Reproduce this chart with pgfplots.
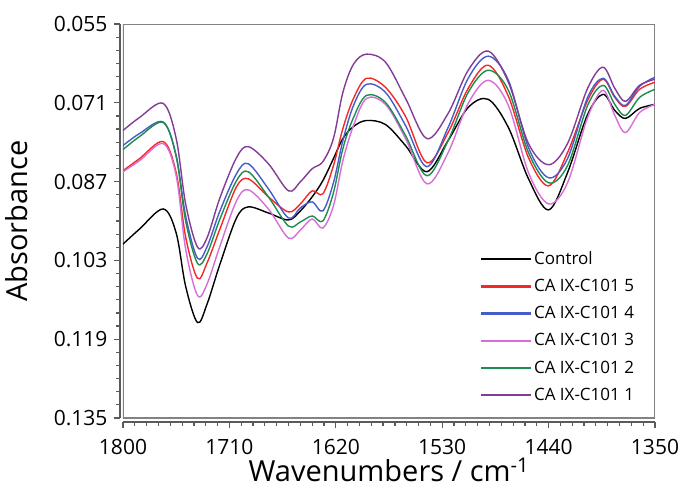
\documentclass[border=0pt]{standalone}
\usepackage{fontspec}
\setmainfont{Open Sans}
\usepackage{pgfplots}
\usepackage{pgfplotstable}
\pgfplotsset{compat=1.18}

\definecolor{cRed}{RGB}{245,40,40}
\definecolor{cBlue}{RGB}{70,92,200}
\definecolor{cPink}{RGB}{215,110,215}
\definecolor{cGreen}{RGB}{30,140,80}
\definecolor{cPurple}{RGB}{130,60,150}
\definecolor{axgray}{RGB}{90,90,90}
\definecolor{framegray}{RGB}{130,130,130}

% wavenumber (cm^-1) vs absorbance
\pgfplotstableread{
wn   ctrl    c5      c4      c3      c2      c1
1800 0.09969 0.08479 0.07969 0.08500 0.08051 0.07663
1786 0.09663 0.08234 0.07724 0.08275 0.07786 0.07398
1766 0.09255 0.07888 0.07490 0.07928 0.07500 0.07112
1755 0.09745 0.08520 0.08173 0.08581 0.08194 0.07826
1747 0.10826 0.09826 0.09398 0.10071 0.09500 0.09153
1737 0.11561 0.10663 0.10255 0.11010 0.10357 0.10030
1729 0.11194 0.10357 0.10030 0.10786 0.10173 0.09847
1718 0.10377 0.09663 0.09296 0.10010 0.09459 0.09030
1704 0.09439 0.08806 0.08541 0.09092 0.08683 0.08214
1694 0.09214 0.08643 0.08337 0.08867 0.08500 0.07990
1677 0.09337 0.09010 0.08847 0.09255 0.09010 0.08337
1660 0.09479 0.09316 0.09439 0.09847 0.09602 0.08888
1650 0.09296 0.09153 0.09234 0.09683 0.09520 0.08704
1640 0.09010 0.08888 0.09112 0.09459 0.09398 0.08439
1631 0.08683 0.08949 0.09296 0.09643 0.09500 0.08296
1622 0.08234 0.08377 0.08724 0.09194 0.08928 0.07826
1614 0.07826 0.07622 0.07867 0.08275 0.08030 0.06888
1605 0.07581 0.07010 0.07153 0.07561 0.07398 0.06316
1594 0.07459 0.06602 0.06724 0.07010 0.06949 0.06112
1578 0.07541 0.06786 0.06888 0.07132 0.07092 0.06275
1561 0.07969 0.07377 0.07561 0.07826 0.07765 0.07010
1543 0.08500 0.08316 0.08398 0.08745 0.08581 0.07826
1525 0.07867 0.07704 0.07602 0.08112 0.07867 0.07316
1508 0.07194 0.06806 0.06602 0.07112 0.06888 0.06439
1491 0.07030 0.06337 0.06153 0.06643 0.06439 0.06051
1474 0.07602 0.06969 0.06643 0.07153 0.06847 0.06683
1457 0.08643 0.08214 0.08010 0.08520 0.08112 0.07928
1440 0.09275 0.08786 0.08622 0.09153 0.08724 0.08357
1424 0.08520 0.08112 0.08234 0.08724 0.08377 0.07928
1407 0.07337 0.07051 0.06990 0.07398 0.07153 0.06806
1394 0.06928 0.06622 0.06602 0.06847 0.06745 0.06377
1384 0.07255 0.06990 0.06969 0.07357 0.07132 0.06806
1375 0.07418 0.07173 0.07153 0.07704 0.07357 0.07071
1363 0.07214 0.06826 0.06765 0.07296 0.06990 0.06745
1350 0.07132 0.06683 0.06581 0.07132 0.06826 0.06622
}\spectra

\begin{document}
\begin{tikzpicture}
\begin{axis}[
  scale only axis, width=532pt, height=394pt,
  x dir=reverse, y dir=reverse,
  xmin=1350, xmax=1800, ymin=0.055, ymax=0.135,
  axis x line*=bottom, axis y line*=left,
  axis x line shift=4pt, axis y line shift=3pt,
  axis line style={axgray, line width=1.5pt},
  xtick={1800,1710,1620,1530,1440,1350},
  xticklabels={1800,1710,1620,1530,1440,1350},
  ytick={0.055,0.071,0.087,0.103,0.119,0.135},
  yticklabels={0.055,0.071,0.087,0.103,0.119,0.135},
  minor x tick num=8, minor y tick num=5,
  tick align=outside,
  major tick length=6pt, minor tick length=3.5pt,
  tick style={axgray, line width=1.2pt},
  tick label style={font=\fontsize{21}{25}\selectfont},
  xticklabel style={yshift=-8pt},
  yticklabel style={xshift=-3pt},
  xlabel={Wavenumbers / cm\textsuperscript{-1}},
  ylabel={Absorbance},
  label style={font=\fontsize{29}{34}\selectfont},
  xlabel style={at={(axis description cs:0.5,-0.16)}, anchor=base},
  ylabel style={at={(axis description cs:-0.2,0.5)}, anchor=center},
  legend style={draw=none, fill=none, font=\fontsize{17}{20}\selectfont,
    at={(axis description cs:0.665,0.432)}, anchor=north west,
    row sep=9.2pt, legend cell align=left},
  legend image code/.code={\draw[#1, line width=2.1pt] (0pt,0pt) -- (50pt,0pt);},
  every axis plot/.append style={line width=1.4pt, smooth, tension=0.55},
]
\draw[framegray, line width=1.2pt] (rel axis cs:0,0) rectangle (rel axis cs:1,1);
\addplot[black]   table[x=wn, y=ctrl] {\spectra};
\addlegendentry{Control}
\addplot[cRed]    table[x=wn, y=c5]   {\spectra};
\addlegendentry{CA IX-C101 5}
\addplot[cBlue]   table[x=wn, y=c4]   {\spectra};
\addlegendentry{CA IX-C101 4}
\addplot[cPink]   table[x=wn, y=c3]   {\spectra};
\addlegendentry{CA IX-C101 3}
\addplot[cGreen]  table[x=wn, y=c2]   {\spectra};
\addlegendentry{CA IX-C101 2}
\addplot[cPurple] table[x=wn, y=c1]   {\spectra};
\addlegendentry{CA IX-C101 1}
\end{axis}
\pgfresetboundingbox
\path (-123pt,-71pt) rectangle (560pt,418pt);
\end{tikzpicture}
\end{document}
